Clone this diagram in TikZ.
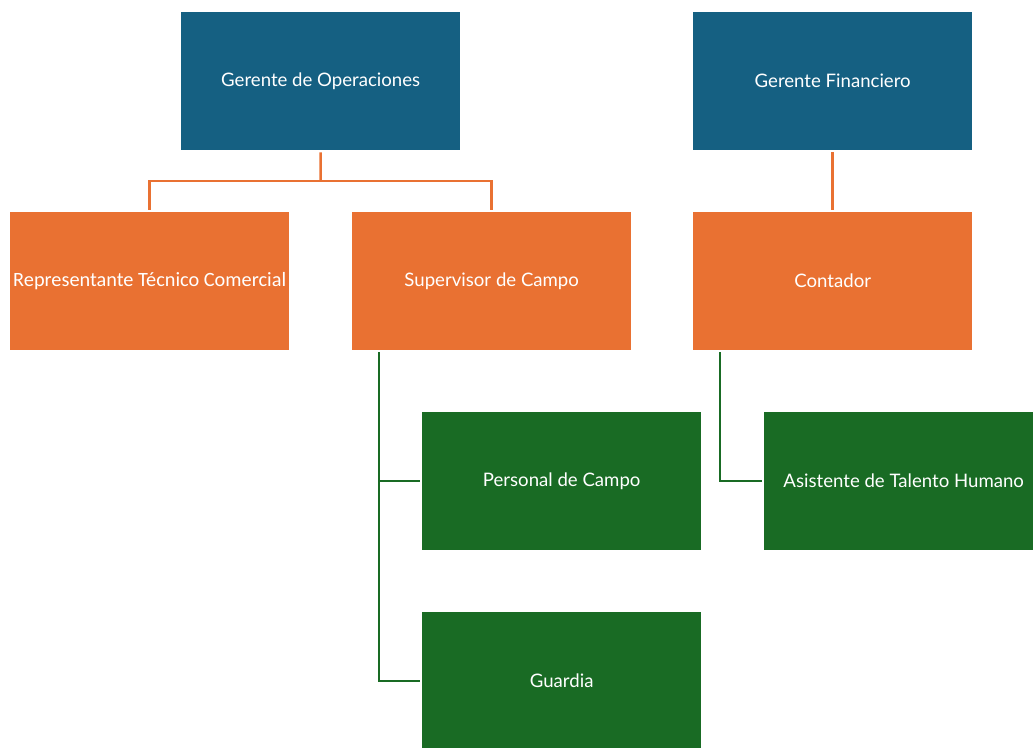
\documentclass[tikz,border=0pt]{standalone}
\usepackage{fontspec}
\setmainfont{Lato}
\newfontfamily\calibri{Carlito}
\definecolor{headblue}{HTML}{156082}
\definecolor{midorange}{HTML}{E97132}
\definecolor{staffgreen}{HTML}{196B24}
\begin{document}
\begin{tikzpicture}[x=1pt,y=-1pt,
  box/.style={anchor=north west, minimum width=279pt, minimum height=138pt,
    inner sep=0pt, text=white, font=\fontsize{18.6}{22}\selectfont},
  headbox/.style={box, fill=headblue},
  midbox/.style={box, fill=midorange},
  staffbox/.style={box, fill=staffgreen},
  link/.style={line width=2.5pt, shorten >=2pt, shorten <=2pt},
  orangelink/.style={link, draw=midorange},
  greenlink/.style={link, draw=staffgreen}]
\useasboundingbox (0,0) rectangle (1033,747);

% top level
\node[headbox] (gop) at (181,12) {Gerente de Operaciones};
\node[headbox] (gfi) at (693,12) {Gerente Financiero};

% second level
\node[midbox, font=\calibri\fontsize{20.3}{22}\selectfont] (rep) at (10,212) {Representante Técnico Comercial};
\node[midbox] (sup) at (352,212) {Supervisor de Campo};
\node[midbox] (con) at (693,212) {Contador};

% third level
\node[staffbox] (pdc) at (422,412) {Personal de Campo};
\node[staffbox] (gua) at (422,612) {Guardia};
\node[staffbox] (ath) at (764,412) {Asistente de Talento Humano};

% orange connectors
\coordinate (obar) at (320.5,181);
\draw[orangelink, shorten >=0pt] (gop.south) -- (obar);
\draw[orangelink, shorten <=0pt] (obar) -| (rep.north);
\draw[orangelink, shorten <=0pt] (obar) -| (sup.north);
\draw[orangelink] (gfi.south) -- (con.north);

% green connectors
\coordinate (sspine) at ([xshift=27pt]sup.south west);
\coordinate (cspine) at ([xshift=27pt]con.south west);
\draw[greenlink] (sspine) |- (pdc.west);
\draw[greenlink] (sspine) |- (gua.west);
\draw[greenlink] (cspine) |- (ath.west);
\end{tikzpicture}
\end{document}
